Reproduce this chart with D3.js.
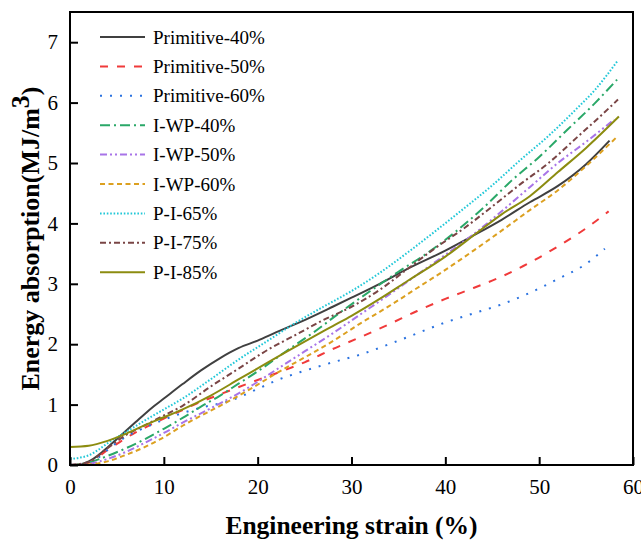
<!DOCTYPE html>
<html>
<head>
<meta charset="utf-8">
<script src="https://cdn.jsdelivr.net/npm/d3@7"></script>
<style>
  body { margin: 0; background: #fff; }
  svg { display: block; }
  svg text { font-family: "Liberation Serif", "Times New Roman", Times, "DejaVu Serif", serif; }
</style>
</head>
<body>
<svg width="641" height="540"></svg>
<script>
// series data: [strain %, energy absorption MJ/m3]
var primitive40 = [[0,0],[1,0.01],[2,0.06],[3,0.16],[4,0.29],[5,0.43],[6,0.57],[7,0.71],[8,0.85],[9,0.98],[10,1.1],[12,1.34],[14,1.57],[16,1.77],[17,1.86],[18,1.94],[20,2.06],[22,2.2],[25,2.4],[28,2.62],[30,2.77],[33,3.0],[36,3.25],[40,3.55],[43,3.8],[46,4.06],[49,4.35],[52,4.62],[55,4.98],[57.5,5.37]];
var primitive50 = [[0,0],[1,0.01],[2,0.04],[3,0.13],[4,0.25],[5,0.35],[6,0.45],[7,0.54],[8,0.62],[10,0.77],[12,0.91],[14,1.05],[16,1.17],[19,1.35],[22,1.52],[25,1.7],[28,1.92],[31,2.12],[34,2.33],[37,2.55],[40,2.75],[43,2.93],[46,3.12],[49,3.35],[52,3.62],[55,3.92],[57.4,4.2]];
var primitive60 = [[0,0],[2,0.04],[3,0.12],[4,0.25],[5,0.37],[6,0.47],[8,0.62],[10,0.75],[12,0.86],[14,0.95],[17,1.06],[20,1.26],[22,1.4],[25,1.56],[28,1.7],[31,1.83],[34,2.0],[37,2.18],[40,2.36],[43,2.51],[46,2.66],[49,2.85],[52,3.08],[55,3.33],[57,3.58]];
var iwp40 = [[0,0],[2,0.04],[4,0.15],[6,0.28],[8,0.43],[10,0.6],[12,0.78],[14,0.97],[16,1.15],[18,1.35],[20,1.55],[23,1.88],[26,2.2],[29,2.55],[32,2.88],[35,3.2],[38,3.5],[41,3.85],[44,4.25],[47,4.7],[50,5.1],[53,5.55],[56,6.0],[58.3,6.38]];
var iwp50 = [[0,0],[2,0.02],[4,0.1],[6,0.22],[8,0.37],[10,0.53],[12,0.7],[14,0.86],[16,1.02],[19,1.28],[22,1.58],[25,1.88],[28,2.18],[31,2.5],[34,2.82],[37,3.15],[40,3.48],[43,3.82],[46,4.2],[49,4.6],[52,5.0],[55,5.35],[58,5.72]];
var iwp60 = [[0,0],[2,0.01],[4,0.06],[6,0.17],[8,0.3],[10,0.46],[12,0.65],[14,0.82],[16,0.98],[18,1.15],[20,1.33],[22,1.52],[25,1.78],[28,2.05],[31,2.35],[34,2.63],[37,2.93],[40,3.23],[43,3.55],[46,3.88],[49,4.22],[52,4.55],[55,4.95],[58.4,5.45]];
var pi65 = [[0,0.1],[1,0.12],[2,0.16],[3,0.25],[4,0.36],[5,0.46],[6,0.55],[8,0.74],[10,0.92],[12,1.1],[15,1.42],[18,1.75],[21,2.05],[24,2.35],[27,2.62],[30,2.88],[33,3.18],[36,3.52],[39,3.88],[42,4.25],[45,4.63],[48,5.05],[51,5.45],[54,5.9],[56,6.22],[58.3,6.68]];
var pi75 = [[0,0],[2,0.05],[4,0.28],[6,0.5],[8,0.66],[10,0.82],[12,0.98],[15,1.3],[18,1.6],[21,1.9],[24,2.15],[27,2.4],[30,2.62],[33,2.9],[36,3.25],[39,3.6],[42,3.92],[45,4.28],[48,4.65],[51,5.0],[54,5.42],[56,5.7],[58.4,6.05]];
var pi85 = [[0,0.3],[2,0.32],[4,0.4],[6,0.52],[8,0.66],[10,0.79],[12,0.92],[15,1.15],[18,1.42],[20,1.6],[23,1.87],[26,2.13],[28,2.3],[30,2.47],[33,2.75],[36,3.05],[40,3.45],[43,3.8],[46,4.15],[49,4.45],[52,4.85],[55,5.25],[58.5,5.77]];

var seriesNames = ["Primitive-40%", "Primitive-50%", "Primitive-60%", "I-WP-40%", "I-WP-50%", "I-WP-60%", "P-I-65%", "P-I-75%", "P-I-85%"];
var seriesValues = [primitive40, primitive50, primitive60, iwp40, iwp50, iwp60, pi65, pi75, pi85];
var seriesColors = ["#404040", "#f03a3a", "#2a72e0", "#2aa868", "#a874e8", "#dca020", "#22c8d8", "#7a4545", "#8c8c10"];
var seriesDash = [null, "8,9", "2,8", "10,4,2,4", "7,3,2,3,2,3", "5,3.5", "1.6,1.8", "6,3,2,3", null];

var xTicks = [0, 10, 20, 30, 40, 50, 60];
var yTicks = [0, 1, 2, 3, 4, 5, 6, 7];

var margin = {top: 12, right: 8, bottom: 75, left: 70};
var width = 641 - margin.left - margin.right;
var height = 540 - margin.top - margin.bottom;

var svg = d3.select("svg");
var g = svg.append("g")
  .attr("transform", "translate(" + margin.left + "," + margin.top + ")");

var x = d3.scaleLinear().domain([0, 60]).range([0, width]);
var y = d3.scaleLinear().domain([0, 7.5]).range([height, 0]);

g.append("clipPath").attr("id", "plotclip")
  .append("rect").attr("width", width).attr("height", height);

var line = d3.line()
  .x(function(d) { return x(d[0]); })
  .y(function(d) { return y(d[1]); })
  .curve(d3.curveMonotoneX);

var lines = g.append("g").attr("clip-path", "url(#plotclip)");
seriesValues.forEach(function(vals, i) {
  lines.append("path")
    .datum(vals)
    .attr("fill", "none")
    .attr("stroke", seriesColors[i])
    .attr("stroke-width", 2)
    .attr("stroke-dasharray", seriesDash[i])
    .attr("d", line);
});

// axes, ticks pointing inward
var xAxis = d3.axisBottom(x).tickValues(xTicks).tickSizeInner(-8).tickSizeOuter(0).tickPadding(14);
var yAxis = d3.axisLeft(y).tickValues(yTicks).tickSizeInner(-8).tickSizeOuter(0).tickPadding(12);

var gx = g.append("g").attr("transform", "translate(0," + height + ")").call(xAxis);
var gy = g.append("g").call(yAxis);
[gx, gy].forEach(function(a) {
  a.attr("font-family", null).attr("font-size", null);
  a.select(".domain").remove();
  a.selectAll("line").attr("stroke", "#000").attr("stroke-width", 2);
  a.selectAll("text")
    .attr("fill", "#000")
    .style("font-size", "21px");
});

g.append("rect")
  .attr("width", width)
  .attr("height", height)
  .attr("fill", "none")
  .attr("stroke", "#000")
  .attr("stroke-width", 2);

// legend
var legend = g.append("g").attr("transform", "translate(30,25)");
seriesNames.forEach(function(name, i) {
  var row = legend.append("g").attr("transform", "translate(0," + (i * 29.4) + ")");
  row.append("line")
    .attr("x1", 0).attr("x2", 45)
    .attr("stroke", seriesColors[i])
    .attr("stroke-width", 2)
    .attr("stroke-dasharray", seriesDash[i]);
  row.append("text")
    .attr("x", 53)
    .attr("y", 6.5)
    .style("font-size", "19px")
    .text(name);
});

// axis titles
svg.append("text")
  .attr("x", margin.left + width / 2)
  .attr("y", 534)
  .attr("text-anchor", "middle")
  .style("font-size", "25.5px")
  .style("font-weight", "bold")
  .text("Engineering strain (%)");

var yt = svg.append("text")
  .attr("transform", "translate(39," + (margin.top + height / 2) + ") rotate(-90)")
  .attr("text-anchor", "middle")
  .style("font-size", "26px")
  .style("font-weight", "bold");
yt.append("tspan").text("Energy absorption(MJ/m");
yt.append("tspan").attr("dy", -10).text("3");
yt.append("tspan").attr("dy", 10).text(")");
</script>
</body>
</html>
